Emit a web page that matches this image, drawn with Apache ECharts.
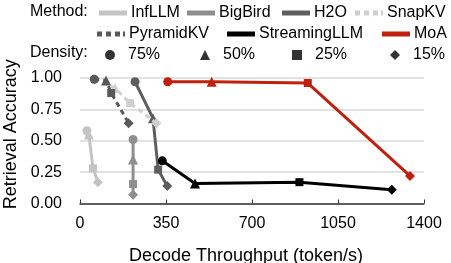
<!DOCTYPE html>
<html><head><meta charset="utf-8">
<script src="https://cdn.jsdelivr.net/npm/echarts@6/dist/echarts.min.js"></script>
<style>html,body{margin:0;padding:0;background:#fff}#c{width:451px;height:263px}</style>
</head><body><div id="c"></div>
<script>
// ---- data ----
const methods = ['InfLLM','BigBird','H2O','SnapKV','PyramidKV','StreamingLLM','MoA'];
const densities = ['75%','50%','25%','15%'];
const densitySymbols = ['circle','triangle','rect','diamond'];
const xTicks = [0,350,700,1050,1400];
const yTicks = [0,0.25,0.5,0.75,1.0];

const infllmX = [28, 36, 53, 73];       const infllmY = [0.58, 0.55, 0.28, 0.17];
const bigbirdX = [216, 216, 216, 216];  const bigbirdY = [0.51, 0.35, 0.155, 0.07];
const h2oX = [224, 297, 318, 355];      const h2oY = [0.97, 0.68, 0.27, 0.14];
const snapkvX = [58, 142, 204, 311];    const snapkvY = [0.99, 0.92, 0.80, 0.64];
const pyramidX = [58, 106, 127, 198];   const pyramidY = [0.99, 0.98, 0.88, 0.64];
const streamX = [335, 468, 893, 1269];  const streamY = [0.34, 0.16, 0.17, 0.11];
const moaX = [357, 536, 927, 1343];     const moaY = [0.97, 0.97, 0.96, 0.22];

const seriesXs = [infllmX, bigbirdX, h2oX, snapkvX, pyramidX, streamX, moaX];
const seriesYs = [infllmY, bigbirdY, h2oY, snapkvY, pyramidY, streamY, moaY];

// ---- styles ----
const colors = ['#c4c4c4','#8e8e8e','#5e5e5e','#cfcfcf','#595959','#000000','#c0200e'];
const dashed = [false,false,false,true,true,false,false];
const symSize = {circle:9, triangle:10, rect:8, diamond:10};
const FONT = 'Liberation Sans, Arial, Helvetica, sans-serif';
const solidIcon = 'path://M0,0H28V5H0Z';
const dashIcon = 'path://M0,0H5V5H0Z M9,0H14V5H9Z M18,0H23V5H18Z M26,0H28V5H26Z';

const series = methods.map((m,i)=>({
  name:m, type:'line', symbol:'none', color:colors[i],
  lineStyle:{width:3, color:colors[i], type: dashed[i]?[5,4]:'solid'},
  itemStyle:{color:colors[i]},
  animation:false, z: 2+i,
  data: seriesXs[i].map((x,j)=>({value:[x, seriesYs[i][j]], symbol:densitySymbols[j], symbolSize:symSize[densitySymbols[j]]}))
}));
densities.forEach((d,j)=>{
  series.push({name:d, type:'scatter', data:[], symbol:densitySymbols[j], itemStyle:{color:'#000'}, color:'#000'});
});

// legend layout (pixel positions)
const methodLegendPos = [[99,5],[187,5],[282,5],[355,5],[97,26],[227,26],[382,26]];
const densityLegendPos = [[105,47],[200,47],[292,47],[390,47]];
const legends = [];
methods.forEach((m,i)=>{
  legends.push({data:[{name:m, icon: dashed[i]?dashIcon:solidIcon}], left:methodLegendPos[i][0], top:methodLegendPos[i][1],
    itemWidth:28, itemHeight:5, itemGap:0, padding:0,
    textStyle:{fontFamily:FONT, fontSize:16, color:'#000', padding:[0,0,0,-1]}, selectedMode:false});
});
densities.forEach((d,j)=>{
  legends.push({data:[{name:d, icon:densitySymbols[j]}], left:densityLegendPos[j][0], top:densityLegendPos[j][1],
    itemWidth:10, itemHeight:10, itemGap:0, padding:0,
    textStyle:{fontFamily:FONT, fontSize:16, color:'#000', padding:[0,0,0,8]}, selectedMode:false});
});

const chart = echarts.init(document.getElementById('c'), null, {renderer:'canvas'});
chart.setOption({
  animation:false,
  backgroundColor:'#fff',
  grid:{left:80, right:27, top:78, bottom:59.5, containLabel:false, outerBoundsMode:'none'},
  legend: legends,
  graphic:[
    {type:'text', left:30, top:4, style:{text:'Method:', font:'16px '+FONT, fill:'#000'}},
    {type:'text', left:30, top:45, style:{text:'Density:', font:'16px '+FONT, fill:'#000'}}
  ],
  xAxis:{type:'value', min:xTicks[0], max:xTicks[xTicks.length-1], interval:xTicks[1]-xTicks[0],
    name:'Decode Throughput (token/s)', nameLocation:'middle', nameGap:44,
    nameTextStyle:{fontFamily:FONT, fontSize:18, color:'#000', padding:[0,12,0,0]},
    axisLine:{lineStyle:{color:'#333', width:1.5}},
    axisTick:{show:true, inside:true, length:4, lineStyle:{color:'#333'}},
    axisLabel:{fontFamily:FONT, fontSize:16, color:'#000', margin:12, formatter:v=>String(v)},
    splitLine:{show:false}},
  yAxis:{type:'value', min:yTicks[0], max:yTicks[yTicks.length-1], interval:yTicks[1]-yTicks[0],
    name:'Retrieval Accuracy', nameLocation:'middle', nameGap:50,
    nameTextStyle:{fontFamily:FONT, fontSize:18, color:'#000', padding:[0,0,0,13]},
    axisLine:{show:false}, axisTick:{show:false},
    axisLabel:{fontFamily:FONT, fontSize:16, color:'#000', margin:18, formatter:v=>v.toFixed(2)},
    splitLine:{show:true, lineStyle:{color:'#d9d9d9', width:1.5}}},
  series: series
});
</script></body></html>
